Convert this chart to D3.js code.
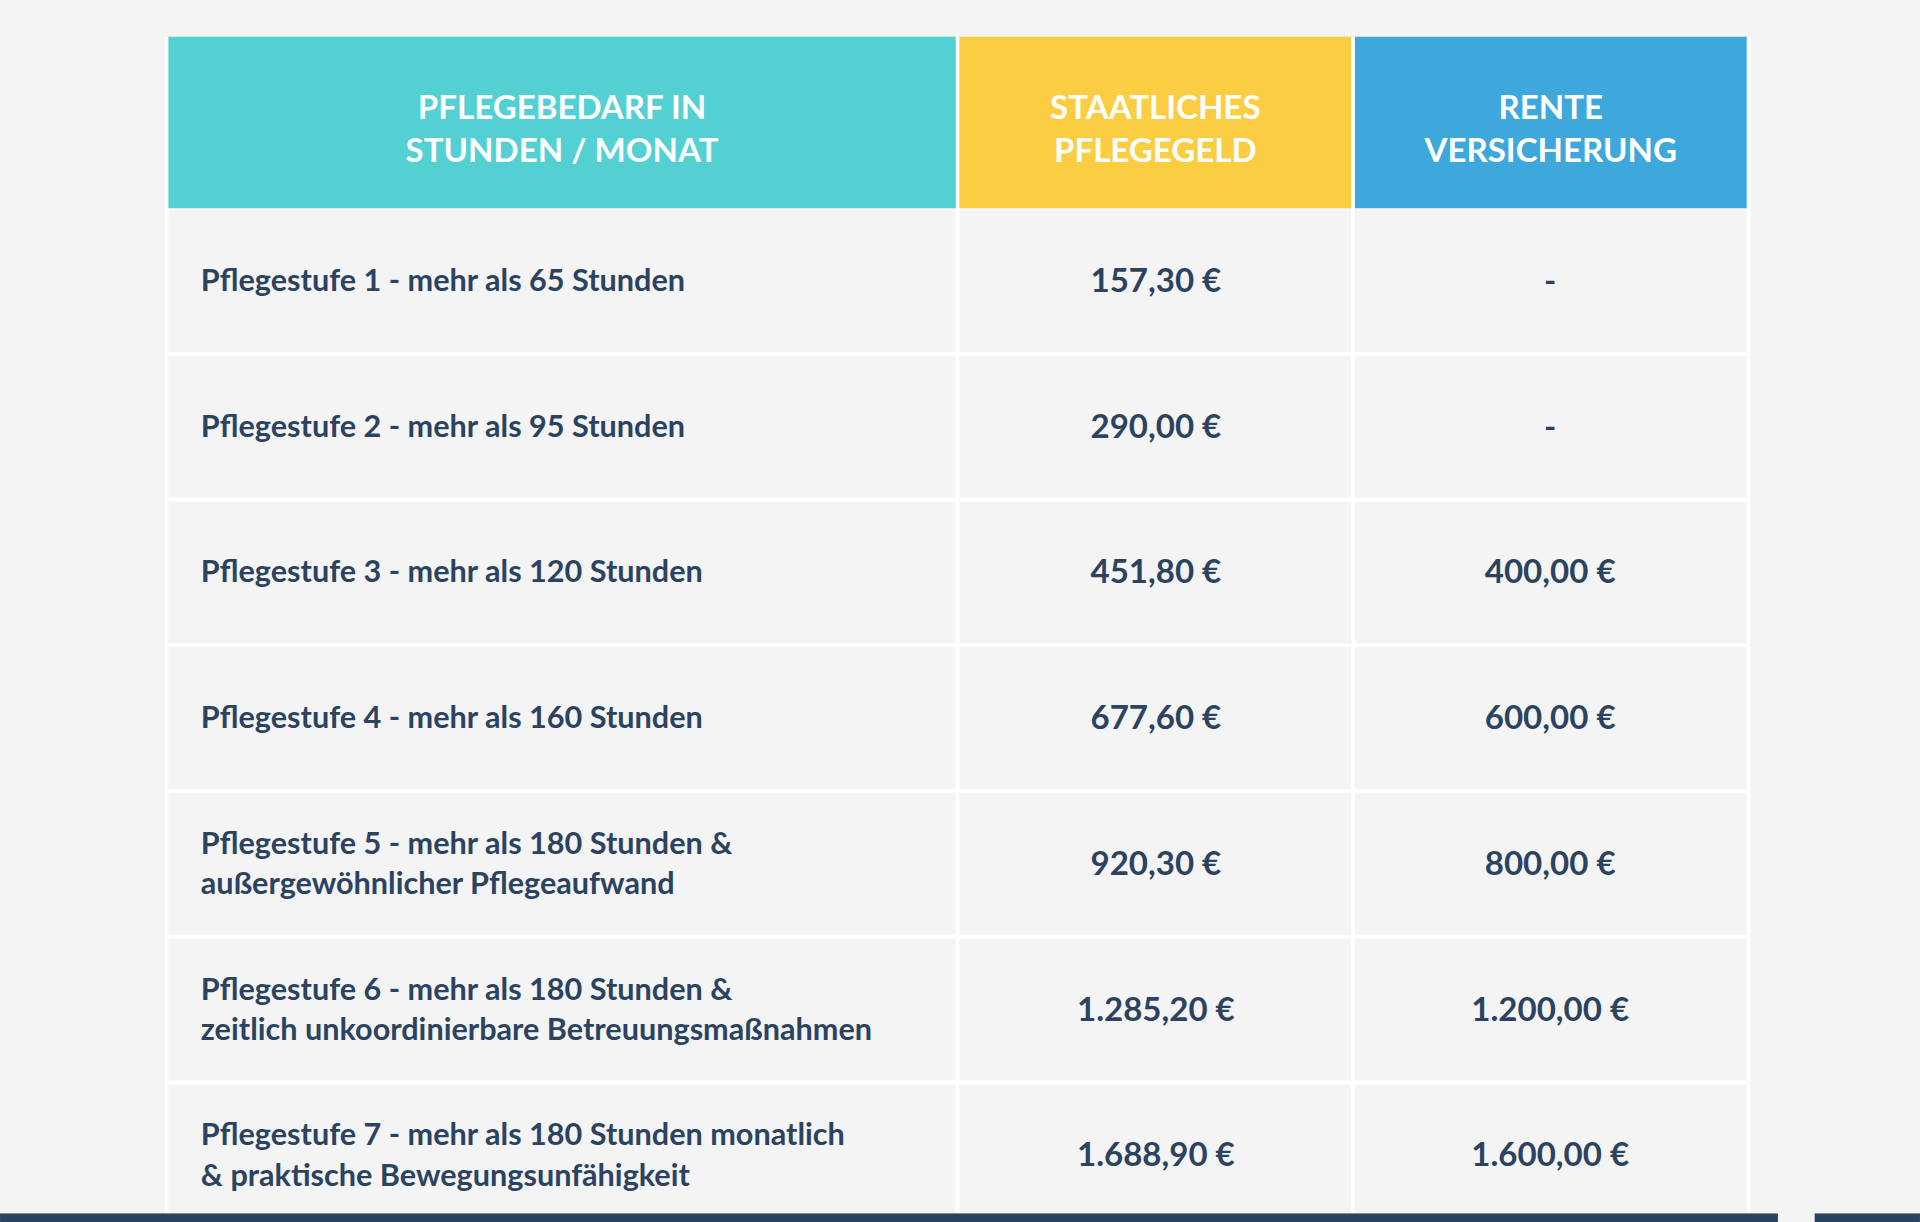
<!DOCTYPE html>
<html><head><meta charset="utf-8">
<script src="https://cdn.jsdelivr.net/npm/d3@7"></script>
<style>body{margin:0;background:#f3f4f3;overflow:hidden}</style>
</head><body>
<svg id="chart" width="1920" height="1222" viewBox="0 0 1568 998"></svg>
<script>
// table content
const headers = [["PFLEGEBEDARF IN", "STUNDEN / MONAT"], ["STAATLICHES", "PFLEGEGELD"], ["RENTE", "VERSICHERUNG"]];
const headerColors = ["#52d0d3", "#fbcd43", "#3ea7dc"];
const labels = [
    ["Pflegestufe 1 - mehr als 65 Stunden"],
    ["Pflegestufe 2 - mehr als 95 Stunden"],
    ["Pflegestufe 3 - mehr als 120 Stunden"],
    ["Pflegestufe 4 - mehr als 160 Stunden"],
    ["Pflegestufe 5 - mehr als 180 Stunden &", "außergewöhnlicher Pflegeaufwand"],
    ["Pflegestufe 6 - mehr als 180 Stunden &", "zeitlich unkoordinierbare Betreuungsmaßnahmen"],
    ["Pflegestufe 7 - mehr als 180 Stunden monatlich", "& praktische Bewegungsunfähigkeit"]
];
const pflegegeld = ["157,30 €", "290,00 €", "451,80 €", "677,60 €", "920,30 €", "1.285,20 €", "1.688,90 €"];
const rente = ["-", "-", "400,00 €", "600,00 €", "800,00 €", "1.200,00 €", "1.600,00 €"];

const svg = d3.select("#chart");
const dark = "#2b4360";
const colEdges = [136, 782, 1105, 1428];
const y = d3.scaleBand().domain(d3.range(labels.length)).range([170, 1003]);

svg.append("rect").attr("width", 1568).attr("height", 998).attr("fill", "#f3f4f3");

// header
headers.forEach((h, i) => {
    svg.append("rect").attr("x", colEdges[i]).attr("y", 30)
        .attr("width", colEdges[i + 1] - colEdges[i]).attr("height", 140)
        .attr("fill", headerColors[i]);
    const cx = (colEdges[i] + colEdges[i + 1]) / 2;
    const t = svg.append("text").attr("x", cx).attr("y", 97).attr("text-anchor", "middle")
        .attr("fill", "#fff").style("font", "700 27px Lato");
    h.forEach((line, j) => t.append("tspan").attr("x", cx).attr("dy", j ? 35 : 0).text(line));
});

// grid lines
svg.append("g").selectAll("line").data(d3.range(labels.length)).join("line")
    .attr("x1", colEdges[0]).attr("x2", colEdges[3])
    .attr("y1", d => y(d) + y.bandwidth()).attr("y2", d => y(d) + y.bandwidth())
    .attr("stroke", "#fff").attr("stroke-width", 3);
[colEdges[0], colEdges[1], colEdges[2], colEdges[3]].forEach(x => {
    svg.append("line").attr("x1", x).attr("x2", x).attr("y1", 30).attr("y2", 998)
        .attr("stroke", "#fff").attr("stroke-width", 3);
});

// rows
labels.forEach((lab, i) => {
    const cy = y(i) + y.bandwidth() / 2;
    const t = svg.append("text").attr("x", 164).attr("fill", dark).style("font", "700 25px Lato")
        .attr("y", cy + 8 - (lab.length - 1) * 16);
    lab.forEach((line, j) => t.append("tspan").attr("x", 164).attr("dy", j ? 33 : 0).text(line));
    svg.append("text").attr("x", 944).attr("y", cy + 9).attr("text-anchor", "middle")
        .attr("fill", dark).style("font", "700 27px Lato").text(pflegegeld[i]);
    svg.append("text").attr("x", 1266).attr("y", cy + 9).attr("text-anchor", "middle")
        .attr("fill", dark).style("font", "700 27px Lato").text(rente[i]);
});

// bottom bar
svg.append("rect").attr("x", 0).attr("y", 991).attr("width", 1452).attr("height", 8).attr("fill", dark);
svg.append("rect").attr("x", 1482).attr("y", 991).attr("width", 86).attr("height", 8).attr("fill", dark);
</script>
</body></html>
